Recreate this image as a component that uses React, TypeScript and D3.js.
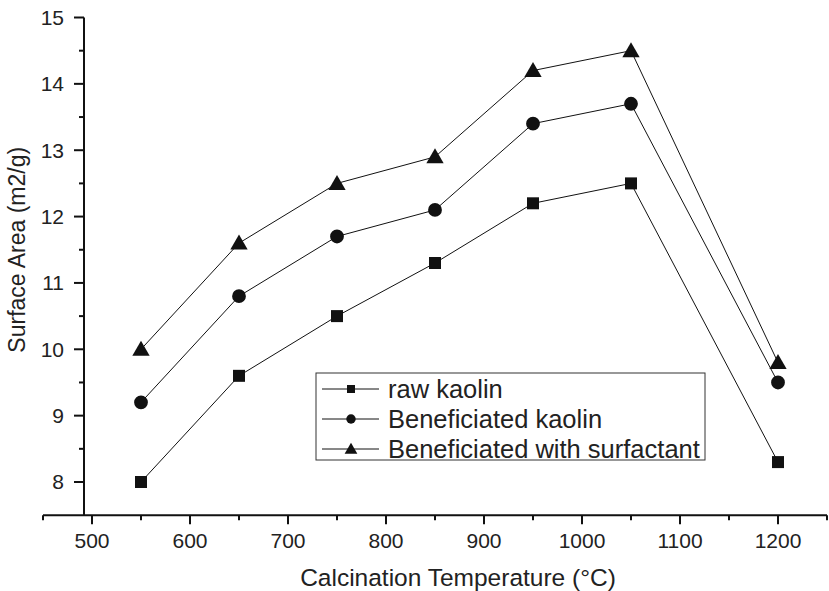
import React, { useEffect, useRef } from 'react'
import * as d3 from 'd3'

const temps = [550, 650, 750, 850, 950, 1050, 1200]
const rawKaolin = [8.0, 9.6, 10.5, 11.3, 12.2, 12.5, 8.3]
const beneficiated = [9.2, 10.8, 11.7, 12.1, 13.4, 13.7, 9.5]
const withSurfactant = [10.0, 11.6, 12.5, 12.9, 14.2, 14.5, 9.8]
const seriesNames = ['raw kaolin', 'Beneficiated kaolin', 'Beneficiated with surfactant']
const xTicks = [500, 600, 700, 800, 900, 1000, 1100, 1200]
const yTicks = [8, 9, 10, 11, 12, 13, 14, 15]

const App: React.FC = () => {
  const svgRef = useRef<SVGSVGElement | null>(null)

  useEffect(() => {
    if (!svgRef.current) return
    const svg = d3.select(svgRef.current)
    svg.selectAll('*').remove()
    const font = 'Liberation Sans, Arial, sans-serif'

    const x = d3.scaleLinear().domain([500, 1200]).range([92, 778])
    const y = d3.scaleLinear().domain([8, 15]).range([482, 17.5])
    const xAxisY = y(7.5)
    const yAxisX = 84

    const symbols = [d3.symbolSquare, d3.symbolCircle, d3.symbolTriangle]
    const sizes = [144, 150, 130]
    const series = [rawKaolin, beneficiated, withSurfactant]

    // x axis
    const gx = svg.append('g')
    gx.append('line')
      .attr('x1', x(450)).attr('x2', x(1250))
      .attr('y1', xAxisY).attr('y2', xAxisY)
      .attr('stroke', '#111').attr('stroke-width', 2)
    const xMinor = d3.range(450, 1251, 50)
    gx.selectAll('line.tick')
      .data(xMinor)
      .join('line')
      .attr('class', 'tick')
      .attr('x1', d => x(d)).attr('x2', d => x(d))
      .attr('y1', xAxisY)
      .attr('y2', d => xAxisY + (d % 100 === 0 ? 9 : 5))
      .attr('stroke', '#111').attr('stroke-width', 2)
    gx.selectAll('text')
      .data(xTicks)
      .join('text')
      .attr('x', d => x(d))
      .attr('y', xAxisY + 33)
      .attr('text-anchor', 'middle')
      .attr('font-family', font)
      .attr('font-size', 21)
      .attr('fill', '#222')
      .text(d => d)

    // y axis
    const gy = svg.append('g')
    gy.append('line')
      .attr('x1', yAxisX).attr('x2', yAxisX)
      .attr('y1', y(15)).attr('y2', xAxisY)
      .attr('stroke', '#111').attr('stroke-width', 2)
    const yMinor = d3.range(8, 15.01, 0.5)
    gy.selectAll('line.tick')
      .data(yMinor)
      .join('line')
      .attr('class', 'tick')
      .attr('x1', yAxisX)
      .attr('x2', d => yAxisX - (Number.isInteger(d) ? 10 : 5))
      .attr('y1', d => y(d)).attr('y2', d => y(d))
      .attr('stroke', '#111').attr('stroke-width', 2)
    gy.selectAll('text')
      .data(yTicks)
      .join('text')
      .attr('x', yAxisX - 20)
      .attr('y', d => y(d))
      .attr('dy', '0.35em')
      .attr('text-anchor', 'end')
      .attr('font-family', font)
      .attr('font-size', 21)
      .attr('fill', '#222')
      .text(d => d)

    // axis titles
    svg.append('text')
      .attr('x', 458).attr('y', 586)
      .attr('text-anchor', 'middle')
      .attr('font-family', font).attr('font-size', 24.5)
      .attr('fill', '#222')
      .text('Calcination Temperature (°C)')
    svg.append('text')
      .attr('transform', `translate(25,${y(11.5)}) rotate(-90)`)
      .attr('text-anchor', 'middle')
      .attr('font-family', font).attr('font-size', 23)
      .attr('fill', '#222')
      .text('Surface Area (m2/g)')

    // lines and markers
    const line = d3.line<number>()
      .x((d, i) => x(temps[i]))
      .y(d => y(d))
    series.forEach((vals, si) => {
      svg.append('path')
        .attr('d', line(vals))
        .attr('fill', 'none')
        .attr('stroke', '#111')
        .attr('stroke-width', 1)
      svg.append('g')
        .selectAll('path')
        .data(vals)
        .join('path')
        .attr('transform', (d, i) => `translate(${x(temps[i])},${y(d) + (si === 2 ? 1.5 : 0)})`)
        .attr('d', d3.symbol(symbols[si], sizes[si])())
        .attr('fill', '#111')
    })

    // legend
    const lg = svg.append('g')
    lg.append('rect')
      .attr('x', 316).attr('y', 373)
      .attr('width', 389).attr('height', 87)
      .attr('fill', 'white')
      .attr('stroke', '#333').attr('stroke-width', 1)
    const rowY = [389, 419, 449]
    const legendSizes = [64, 70, 70]
    seriesNames.forEach((name, i) => {
      lg.append('line')
        .attr('x1', 322).attr('x2', 379)
        .attr('y1', rowY[i]).attr('y2', rowY[i])
        .attr('stroke', '#111').attr('stroke-width', 1)
      lg.append('path')
        .attr('transform', `translate(351,${rowY[i] + (i === 2 ? 1 : 0)})`)
        .attr('d', d3.symbol(symbols[i], legendSizes[i])())
        .attr('fill', '#111')
      lg.append('text')
        .attr('x', 388).attr('y', rowY[i])
        .attr('dy', '0.35em')
        .attr('font-family', font).attr('font-size', 25.5)
        .attr('fill', '#222')
        .text(name)
    })
  }, [])

  return (
    <svg
      ref={svgRef}
      width={829}
      height={591}
      style={{ position: 'absolute', left: 0, top: 0, background: 'white' }}
    />
  )
}

export default App
